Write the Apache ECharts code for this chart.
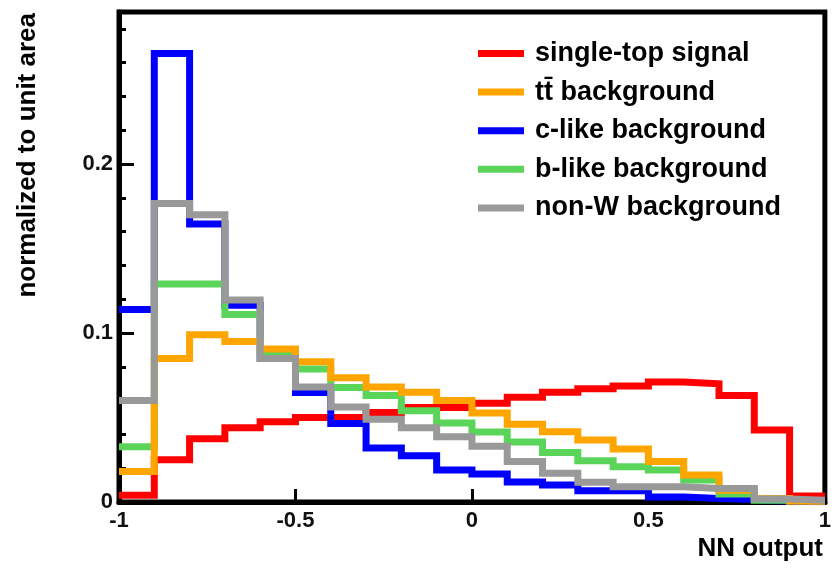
<!DOCTYPE html>
<html>
<head>
<meta charset="utf-8">
<script src="https://cdn.jsdelivr.net/npm/echarts@6/dist/echarts.min.js"></script>
<style>
html,body{margin:0;padding:0;background:#fff;}
#chart{width:834px;height:575px;}
</style>
</head>
<body>
<div id="chart"></div>
<script>
// Bin left edges (bin width 0.1), last bin closes at 1
var binEdges = [-1, -0.9, -0.8, -0.7, -0.6, -0.5, -0.4, -0.3, -0.2, -0.1, 0, 0.1, 0.2, 0.3, 0.4, 0.5, 0.6, 0.7, 0.8, 0.9];
var xMaxEdge = 1;

var seriesNames = ['single-top signal', 't\u0074\u0304 background', 'c-like background', 'b-like background', 'non-W background'];

var signalVals = [0.004, 0.025, 0.0375, 0.044, 0.0475, 0.050, 0.050, 0.053, 0.056, 0.056, 0.0585, 0.062, 0.065, 0.067, 0.0686, 0.071, 0.070, 0.063, 0.0426, 0.0035];
var ttbarVals  = [0.018, 0.085, 0.099, 0.095, 0.0905, 0.083, 0.0736, 0.068, 0.065, 0.060, 0.0526, 0.046, 0.0416, 0.0367, 0.0314, 0.0239, 0.016, 0.007, 0.002, 0.0005];
var clikeVals  = [0.114, 0.2655, 0.1645, 0.1165, 0.085, 0.0648, 0.0465, 0.032, 0.0274, 0.019, 0.0166, 0.0118, 0.010, 0.0067, 0.0067, 0.003, 0.002, 0.0015, 0.0005, 0.0002];
var blikeVals  = [0.0327, 0.129, 0.129, 0.111, 0.0884, 0.0787, 0.0677, 0.063, 0.054, 0.0467, 0.0414, 0.0355, 0.0293, 0.0244, 0.0209, 0.019, 0.013, 0.0047, 0.001, 0.0005];
var nonWVals   = [0.060, 0.1767, 0.170, 0.1195, 0.085, 0.068, 0.0562, 0.049, 0.044, 0.0386, 0.033, 0.0239, 0.017, 0.0117, 0.009, 0.009, 0.008, 0.008, 0.0018, 0.001];

var colors = ['#ff0000', '#ffa500', '#0000ff', '#5ad55a', '#999999'];

var yMajorTicks = [0, 0.1, 0.2];
var xTickLabels = ['-1', '-0.5', '0', '0.5', '1'];

function toSteps(vals) {
  var d = binEdges.map(function (e, i) { return [e, vals[i]]; });
  d.push([xMaxEdge, vals[vals.length - 1]]);
  return d;
}

var FONT = '"Liberation Sans", Arial, Helvetica, sans-serif';

function mkSeries(idx, vals) {
  return {
    name: seriesNames[idx],
    type: 'line',
    step: 'end',
    data: toSteps(vals),
    showSymbol: false,
    symbol: 'none',
    color: colors[idx],
    itemStyle: { color: colors[idx] },
    lineStyle: { color: colors[idx], width: 7, join: 'miter', cap: 'butt' },
    emphasis: { disabled: true },
    silent: true,
    clip: true
  };
}

var chart = echarts.init(document.getElementById('chart'), null, { renderer: 'canvas' });

var option = {
  animation: false,
  backgroundColor: '#ffffff',
  grid: { left: 119, right: 7, top: 12, bottom: 73, show: true, borderColor: '#000', borderWidth: 5, backgroundColor: 'transparent' },
  legend: {
    orient: 'vertical',
    left: 473,
    top: 35,
    itemWidth: 46,
    itemHeight: 7,
    itemGap: 11.6,
    icon: 'rect',
    selectedMode: false,
    data: seriesNames,
    textStyle: { fontFamily: FONT, fontSize: 27, fontWeight: 'bold', color: '#000', lineHeight: 27, padding: [0, 0, 0, 6] }
  },
  xAxis: {
    type: 'value',
    min: -1,
    max: 1,
    interval: 0.5,
    axisLine: { show: true, onZero: false, lineStyle: { color: '#000', width: 5 } },
    axisTick: { show: true, inside: true, length: 13, lineStyle: { color: '#000', width: 3 } },
    axisLabel: {
      margin: 8,
      fontFamily: FONT, fontSize: 22, fontWeight: 'bold', color: '#111',
      formatter: function (v) {
        var i = Math.round((v + 1) / 0.5);
        return xTickLabels[i] !== undefined ? xTickLabels[i] : '';
      }
    },
    splitLine: { show: false }
  },
  yAxis: [
    {
      type: 'value',
      min: 0,
      max: 0.29,
      interval: 0.1,
      position: 'left',
      axisLine: { show: true, onZero: false, lineStyle: { color: '#000', width: 5 } },
      axisTick: { show: true, inside: true, length: 15, lineStyle: { color: '#000', width: 3 } },
      axisLabel: {
        margin: 6,
        showMaxLabel: false,
        fontFamily: FONT, fontSize: 22, fontWeight: 'bold', color: '#111',
        formatter: function (v) {
          for (var i = 0; i < yMajorTicks.length; i++) {
            if (Math.abs(v - yMajorTicks[i]) < 1e-6) return String(yMajorTicks[i]);
          }
          return '';
        }
      },
      splitLine: { show: false }
    },
    {
      type: 'value',
      min: 0,
      max: 0.29,
      interval: 0.02,
      position: 'left',
      offset: 0,
      axisLine: { show: false, onZero: false },
      axisTick: { show: true, inside: true, length: 7, lineStyle: { color: '#000', width: 3 } },
      axisLabel: { show: false },
      splitLine: { show: false }
    }
  ],
  series: [
    mkSeries(0, signalVals),
    mkSeries(2, clikeVals),
    mkSeries(3, blikeVals),
    mkSeries(1, ttbarVals),
    mkSeries(4, nonWVals)
  ],
  graphic: [
    {
      type: 'text',
      x: 28,
      y: 13,
      rotation: Math.PI / 2,
      style: { text: 'normalized to unit area', font: 'bold 26px ' + FONT, fill: '#000', align: 'right', verticalAlign: 'middle' }
    },
    {
      type: 'text',
      right: 11,
      top: 536,
      style: { text: 'NN output', font: 'bold 26px ' + FONT, fill: '#000' }
    }
  ]
};

chart.setOption(option);
</script>
</body>
</html>
